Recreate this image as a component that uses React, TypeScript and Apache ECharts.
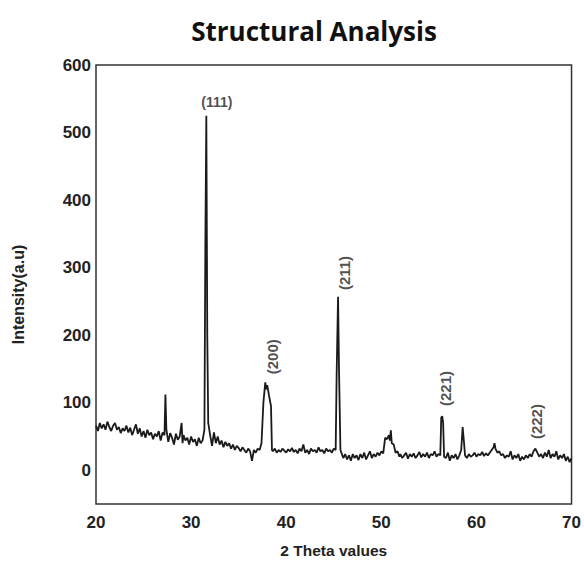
import React, { useEffect, useRef } from "react";
import * as echarts from "echarts";

const xTicks = [20, 30, 40, 50, 60, 70];

// [2θ, intensity]
const pattern: [number, number][] = [
  [20.0, 66], [20.2, 58], [20.4, 70], [20.6, 62], [20.8, 68], [21.0, 60], [21.2, 72], [21.4, 64],
  [21.6, 58], [21.8, 66], [22.0, 70], [22.2, 60], [22.4, 64], [22.6, 55], [22.8, 62], [23.0, 58],
  [23.2, 66], [23.4, 56], [23.6, 63], [23.8, 52], [24.0, 60], [24.2, 68], [24.4, 54], [24.6, 62],
  [24.8, 50], [25.0, 58], [25.2, 48], [25.4, 60], [25.6, 52], [25.8, 56], [26.0, 46], [26.2, 54],
  [26.4, 50], [26.6, 58], [26.8, 44], [27.0, 56], [27.2, 52], [27.3, 112], [27.4, 60], [27.6, 42],
  [27.8, 55], [28.0, 48], [28.2, 38], [28.4, 54], [28.6, 45], [28.8, 50], [29.0, 70], [29.1, 40],
  [29.2, 52], [29.4, 44], [29.6, 48], [29.8, 38], [30.0, 50], [30.2, 42], [30.4, 46], [30.6, 36],
  [30.8, 48], [31.0, 40], [31.2, 44], [31.4, 60], [31.5, 340], [31.6, 525], [31.7, 200], [31.8, 70],
  [32.0, 52], [32.2, 36], [32.4, 56], [32.6, 40], [32.8, 50], [33.0, 38], [33.2, 44], [33.4, 34],
  [33.6, 42], [33.8, 36], [34.0, 40], [34.2, 32], [34.4, 38], [34.6, 30], [34.8, 36], [35.0, 33],
  [35.2, 28], [35.4, 34], [35.6, 30], [35.8, 26], [36.0, 32], [36.2, 28], [36.4, 14], [36.6, 30],
  [36.8, 26], [37.0, 32], [37.2, 30], [37.4, 40], [37.6, 100], [37.8, 130], [37.9, 120], [38.0, 126],
  [38.2, 110], [38.4, 95], [38.5, 30], [38.6, 28], [38.8, 32], [39.0, 26], [39.2, 30], [39.4, 27],
  [39.6, 32], [39.8, 29], [40.0, 26], [40.2, 31], [40.4, 28], [40.6, 33], [40.8, 27], [41.0, 30],
  [41.2, 25], [41.4, 32], [41.6, 28], [41.8, 38], [42.0, 26], [42.2, 30], [42.4, 24], [42.6, 32],
  [42.8, 28], [43.0, 30], [43.2, 26], [43.4, 34], [43.6, 28], [43.8, 30], [44.0, 25], [44.2, 32],
  [44.4, 28], [44.6, 30], [44.8, 26], [45.0, 32], [45.2, 30], [45.3, 140], [45.45, 257], [45.55, 150],
  [45.7, 30], [45.9, 22], [46.0, 18], [46.2, 24], [46.4, 16], [46.6, 22], [46.8, 14], [47.0, 24],
  [47.2, 18], [47.4, 22], [47.6, 15], [47.8, 24], [48.0, 18], [48.2, 26], [48.4, 16], [48.6, 22],
  [48.8, 28], [49.0, 18], [49.2, 24], [49.4, 20], [49.6, 26], [49.8, 22], [50.0, 28], [50.2, 25],
  [50.4, 48], [50.6, 46], [50.8, 52], [50.9, 44], [51.0, 59], [51.1, 40], [51.3, 38], [51.5, 26],
  [51.7, 28], [51.9, 20], [52.0, 24], [52.2, 18], [52.4, 22], [52.6, 26], [52.8, 17], [53.0, 24],
  [53.2, 20], [53.4, 25], [53.6, 18], [53.8, 22], [54.0, 27], [54.2, 19], [54.4, 24], [54.6, 20],
  [54.8, 26], [55.0, 18], [55.2, 24], [55.4, 22], [55.6, 28], [55.8, 20], [56.0, 24], [56.2, 22],
  [56.3, 78], [56.4, 80], [56.5, 70], [56.6, 20], [56.8, 18], [57.0, 26], [57.2, 14], [57.4, 22],
  [57.6, 18], [57.8, 24], [58.0, 16], [58.2, 22], [58.4, 30], [58.55, 64], [58.7, 40], [58.8, 22],
  [59.0, 18], [59.2, 24], [59.4, 20], [59.6, 22], [59.8, 26], [60.0, 20], [60.2, 24], [60.4, 22],
  [60.6, 27], [60.8, 21], [61.0, 25], [61.2, 22], [61.4, 26], [61.6, 30], [61.8, 34], [61.9, 40],
  [62.0, 32], [62.2, 26], [62.4, 28], [62.6, 22], [62.8, 24], [63.0, 18], [63.2, 22], [63.4, 20],
  [63.6, 28], [63.8, 16], [64.0, 22], [64.2, 18], [64.4, 24], [64.6, 14], [64.8, 20], [65.0, 16],
  [65.2, 22], [65.4, 18], [65.6, 24], [65.8, 20], [66.0, 28], [66.2, 32], [66.4, 26], [66.6, 20],
  [66.8, 24], [67.0, 18], [67.2, 26], [67.4, 20], [67.6, 30], [67.8, 18], [68.0, 24], [68.2, 20],
  [68.4, 28], [68.6, 16], [68.8, 22], [69.0, 18], [69.2, 24], [69.4, 14], [69.6, 20], [69.8, 12],
  [70.0, 18],
];

// Miller index labels: [2θ, intensity, text, rotated]
const peakLabels: [number, number, string, boolean][] = [
  [32.7, 545, "(111)", false],
  [38.56, 168, "(200)", true],
  [46.16, 292, "(211)", true],
  [56.73, 121, "(221)", true],
  [66.3, 72, "(222)", true],
];

export default function App() {
  const ref = useRef<HTMLDivElement>(null);
  useEffect(() => {
    if (!ref.current) return;
    const chart = echarts.init(ref.current, undefined, { renderer: "svg" });
    const font = "'Liberation Sans', Arial, sans-serif";
    chart.setOption({
      animation: false,
      backgroundColor: "#ffffff",
      title: {
        text: "Structural Analysis",
        left: 309,
        top: 13,
        textAlign: "center",
        textStyle: { fontFamily: "'Open Sans', sans-serif", fontWeight: "bold", fontSize: 26, color: "#111" },
      },
      grid: {
        left: 96,
        right: 12,
        top: 65,
        bottom: 70,
        show: true,
        borderColor: "#333",
        borderWidth: 1.5,
        containLabel: false,
      },
      xAxis: {
        type: "value",
        min: 20,
        max: 70,
        interval: 10,
        name: "2 Theta values",
        nameLocation: "middle",
        nameGap: 38,
        nameTextStyle: { fontFamily: font, fontWeight: "bold", fontSize: 15.5, color: "#222" },
        axisLine: { show: false },
        axisTick: { show: false },
        splitLine: { show: false },
        axisLabel: {
          margin: 10,
          fontFamily: font,
          fontWeight: "bold",
          fontSize: 17,
          color: "#222",
          customValues: xTicks,
        },
      },
      yAxis: {
        type: "value",
        min: -50,
        max: 600,
        interval: 50,
        name: "Intensity(a.u)",
        nameLocation: "middle",
        nameGap: 70,
        nameTextStyle: {
          fontFamily: font,
          fontWeight: "bold",
          fontSize: 16,
          color: "#222",
          padding: [0, 20, 0, 0],
        },
        axisLine: { show: false },
        axisTick: { show: false },
        splitLine: { show: false },
        axisLabel: {
          margin: 5,
          fontFamily: font,
          fontWeight: "bold",
          fontSize: 17,
          color: "#222",
          formatter: (v: number) => (v >= 0 && v % 100 === 0 ? String(v) : ""),
        },
      },
      series: [
        {
          type: "line",
          data: pattern,
          showSymbol: false,
          symbol: "none",
          lineStyle: { color: "#1a1a1a", width: 1.8 },
          z: 2,
        },
        {
          type: "scatter",
          symbolSize: 0,
          silent: true,
          itemStyle: { color: "#222" },
          data: peakLabels.map(([x, y, t, r]) => ({
            value: [x, y],
            name: t,
            label: {
              show: true,
              position: "inside",
              rotate: r ? 90 : 0,
              formatter: t,
              fontFamily: font,
              fontWeight: "bold",
              fontSize: r ? 15 : 14,
              color: "#222",
              textBorderWidth: 0,
            },
          })),
          z: 3,
        },
      ],
    });
    return () => chart.dispose();
  }, []);
  return (
    <div
      ref={ref}
      style={{ position: "absolute", left: 0, top: 0, width: 584, height: 574 }}
    />
  );
}
